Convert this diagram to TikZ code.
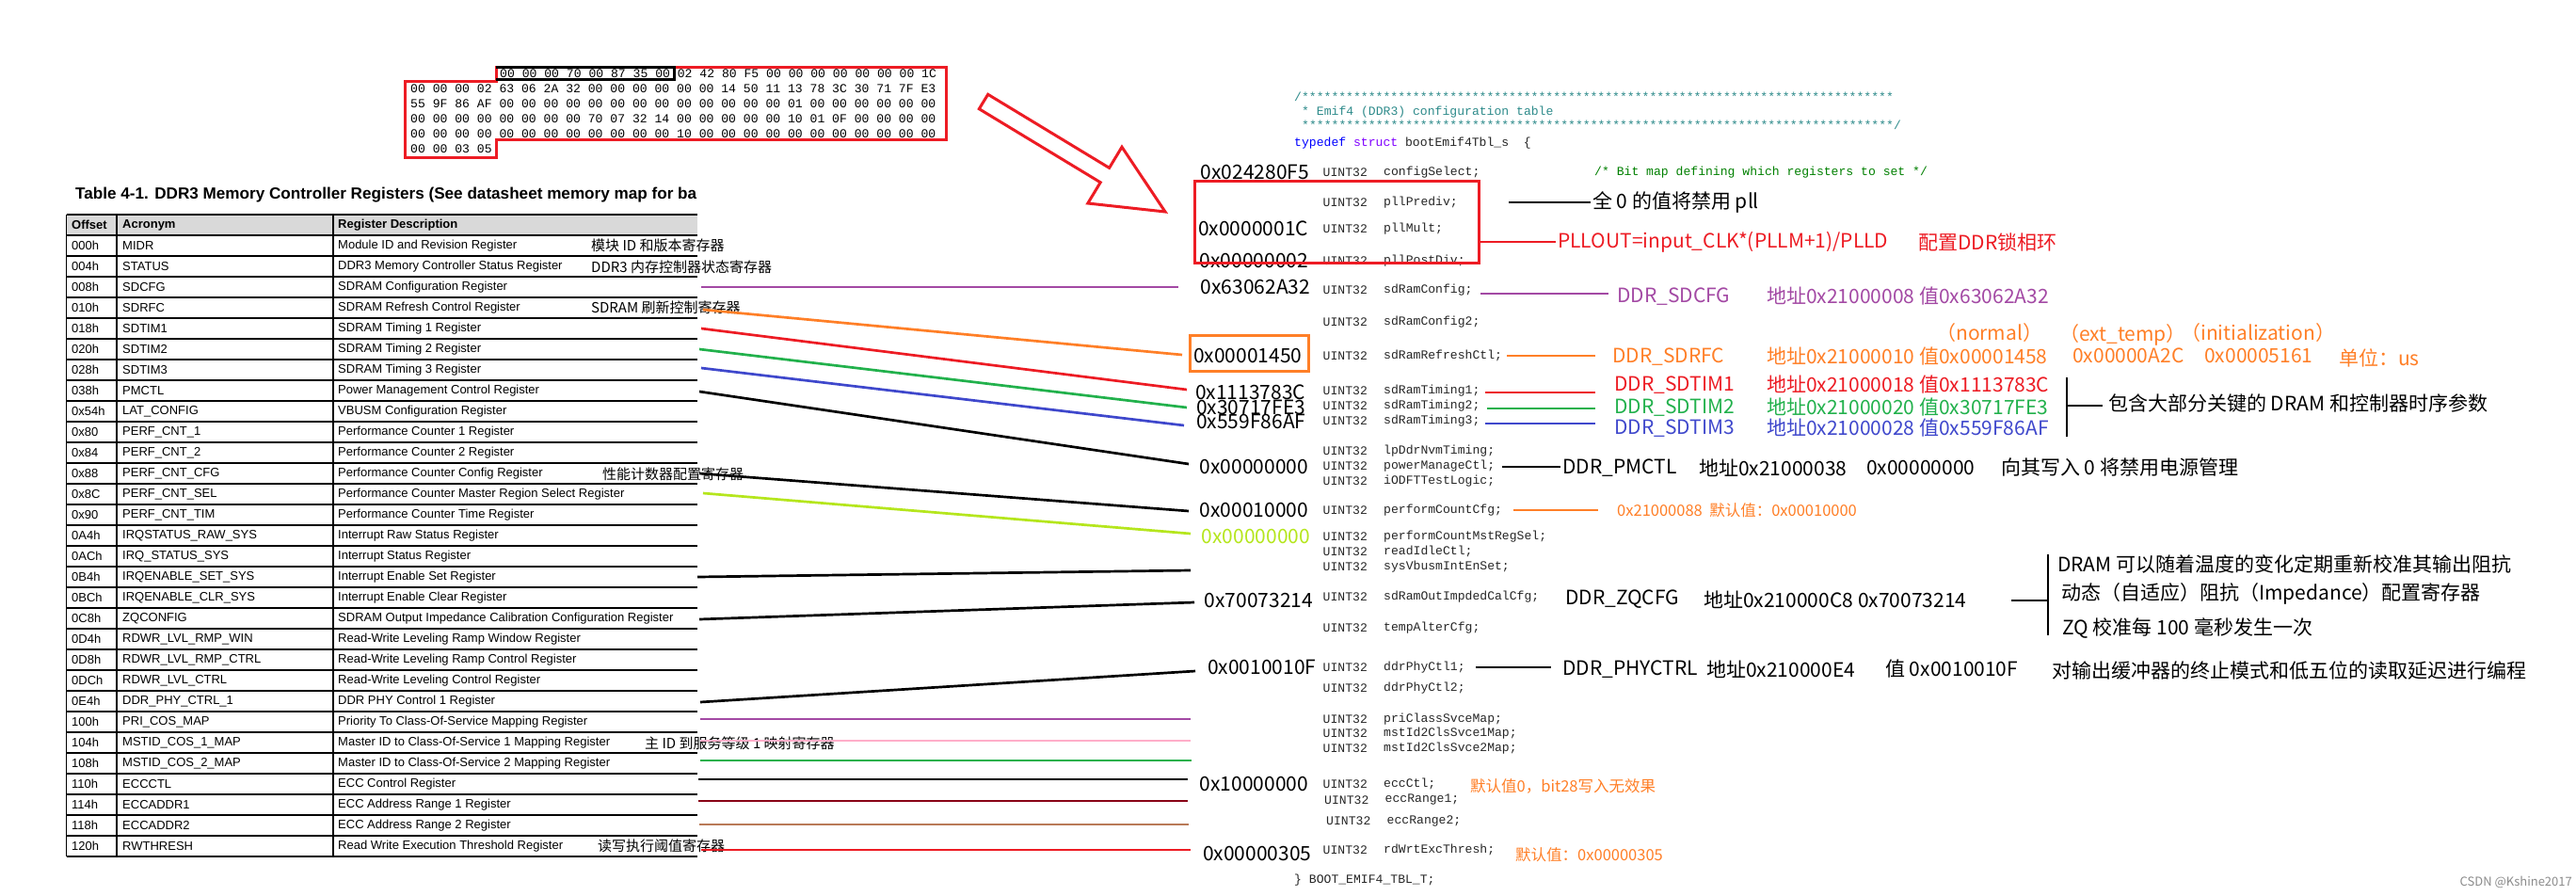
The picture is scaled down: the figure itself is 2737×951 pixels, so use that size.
\documentclass[tikz,border=0pt]{standalone}
\usepackage{fontspec}
\setmainfont{Liberation Sans}
\newfontfamily\cjkf{Noto Sans CJK SC}
\newfontfamily\arialf{Liberation Sans}
\newfontfamily\monof{Liberation Mono}
\definecolor{pRed}{HTML}{ED1C24}
\definecolor{pOrange}{HTML}{FF7F27}
\definecolor{pPurple}{HTML}{A349A4}
\definecolor{pGreen}{HTML}{22B14C}
\definecolor{pBlue}{HTML}{3F48CC}
\definecolor{pLime}{HTML}{B5E61D}
\definecolor{pPink}{HTML}{FFAEC9}
\definecolor{pDarkRed}{HTML}{880015}
\definecolor{pBrown}{HTML}{B97A57}
\definecolor{cTeal}{HTML}{2E8B8B}
\definecolor{cGreen}{HTML}{008000}
\definecolor{cBlue}{HTML}{0000FF}
\definecolor{cPurple}{HTML}{8000FF}
\definecolor{headGray}{HTML}{D9D9D9}
\begin{document}
\begin{tikzpicture}[x=1pt,y=-1pt,
  hex/.style={anchor=west,inner sep=0pt,font=\monof\fontsize{13.1}{15}\selectfont},
  tabtxt/.style={anchor=west,inner sep=0pt,font=\arialf\fontsize{13}{15}\selectfont},
  tabhead/.style={anchor=west,inner sep=0pt,font=\arialf\bfseries\fontsize{13}{15}\selectfont},
  note/.style={anchor=west,inner sep=0pt,font=\cjkf\fontsize{15}{17}\selectfont},
  val/.style={anchor=west,inner sep=0pt,font=\cjkf\fontsize{21}{24}\selectfont},
  code/.style={anchor=west,inner sep=0pt,text=black!85,font=\monof\fontsize{13.1}{15}\selectfont},
  lbl/.style={anchor=west,inner sep=0pt,font=\cjkf\fontsize{21}{24}\selectfont},
  small/.style={anchor=west,inner sep=0pt,font=\cjkf\fontsize{16.5}{19}\selectfont},
  conn/.style={line width=2.7pt},
  tline/.style={line width=1.2pt}]
\useasboundingbox (0,0) rectangle (2737,951);
\fill[white] (0,0) rectangle (2737,951);

% ---------- hex dump ----------
\draw[pRed,line width=3pt] (527,71) -- (1005,71) -- (1005,148) -- (527,148) -- (527,167) -- (430,167) -- (430,86) -- (527,86) -- cycle;
\draw[black,line width=3pt] (527,71) -- (716,71) -- (716,84) -- (527,84);
\node[hex] (h1) at (531,78) {00 00 00 70 00 87 35 00 02 42 80 F5 00 00 00 00 00 00 00 1C};
\node[hex] (h2) at (436,94) {00 00 00 02 63 06 2A 32 00 00 00 00 00 00 14 50 11 13 78 3C 30 71 7F E3};
\node[hex] (h3) at (436,110) {55 9F 86 AF 00 00 00 00 00 00 00 00 00 00 00 00 00 01 00 00 00 00 00 00};
\node[hex] (h4) at (436,126) {00 00 00 00 00 00 00 00 70 07 32 14 00 00 00 00 00 10 01 0F 00 00 00 00};
\node[hex] (h5) at (436,142) {00 00 00 00 00 00 00 00 00 00 00 00 10 00 00 00 00 00 00 00 00 00 00 00};
\node[hex] (h6) at (436,158) {00 00 03 05};

% ---------- big red arrow ----------
\draw[pRed,line width=3pt,line join=miter] (1040.3,115.7) -- (1169.2,193.8) -- (1155.8,216.0) -- (1238,225) -- (1192.0,156.2) -- (1178.6,178.4) -- (1049.7,100.3) -- cycle;

% ---------- table ----------
\node[anchor=west,inner sep=0pt] (ttl) at (80,207) {\resizebox{660pt}{!}{\arialf\bfseries Table 4-1. DDR3 Memory Controller Registers (See datasheet memory map for ba}};
\fill[headGray] (70.5,228) rectangle (741,250);
\foreach \i in {0,...,31} \draw[tline] (70.5,{228+22*\i}) -- (741,{228+22*\i});
\draw[tline] (70.5,228) -- (70.5,910);
\draw[tline] (124,228) -- (124,910);
\draw[tline] (354,228) -- (354,910);
\node[tabhead] (hoff) at (76,239) {Offset};
\node[tabhead] (hacr) at (130,239) {Acronym};
\node[tabhead] (hdes) at (359,239) {Register Description};
\foreach \o/\a/\d [count=\i] in {000h/MIDR/Module ID and Revision Register,
004h/STATUS/DDR3 Memory Controller Status Register,
008h/SDCFG/SDRAM Configuration Register,
010h/SDRFC/SDRAM Refresh Control Register,
018h/SDTIM1/SDRAM Timing 1 Register,
020h/SDTIM2/SDRAM Timing 2 Register,
028h/SDTIM3/SDRAM Timing 3 Register,
038h/PMCTL/Power Management Control Register,
0x54h/LAT\_CONFIG/VBUSM Configuration Register,
0x80/PERF\_CNT\_1/Performance Counter 1 Register,
0x84/PERF\_CNT\_2/Performance Counter 2 Register,
0x88/PERF\_CNT\_CFG/Performance Counter Config Register,
0x8C/PERF\_CNT\_SEL/Performance Counter Master Region Select Register,
0x90/PERF\_CNT\_TIM/Performance Counter Time Register,
0A4h/IRQSTATUS\_RAW\_SYS/Interrupt Raw Status Register,
0ACh/IRQ\_STATUS\_SYS/Interrupt Status Register,
0B4h/IRQENABLE\_SET\_SYS/Interrupt Enable Set Register,
0BCh/IRQENABLE\_CLR\_SYS/Interrupt Enable Clear Register,
0C8h/ZQCONFIG/SDRAM Output Impedance Calibration Configuration Register,
0D4h/RDWR\_LVL\_RMP\_WIN/Read-Write Leveling Ramp Window Register,
0D8h/RDWR\_LVL\_RMP\_CTRL/Read-Write Leveling Ramp Control Register,
0DCh/RDWR\_LVL\_CTRL/Read-Write Leveling Control Register,
0E4h/DDR\_PHY\_CTRL\_1/DDR PHY Control 1 Register,
100h/PRI\_COS\_MAP/Priority To Class-Of-Service Mapping Register,
104h/MSTID\_COS\_1\_MAP/Master ID to Class-Of-Service 1 Mapping Register,
108h/MSTID\_COS\_2\_MAP/Master ID to Class-Of-Service 2 Mapping Register,
110h/ECCCTL/ECC Control Register,
114h/ECCADDR1/ECC Address Range 1 Register,
118h/ECCADDR2/ECC Address Range 2 Register,
120h/RWTHRESH/Read Write Execution Threshold Register}
{
  \node[tabtxt] (off\i) at (76,{239+22*\i}) {\o};
  \node[tabtxt] (acr\i) at (130,{239+22*\i}) {\a};
  \node[tabtxt] (des\i) at (359,{239+22*\i}) {\d};
}
% chinese notes in table
\node[note] (n1) at (628,261) {模块 ID 和版本寄存器};
\node[note] (n2) at (628,284) {DDR3 内存控制器状态寄存器};
\node[note] (n3) at (628,327) {SDRAM 刷新控制寄存器};
\node[note] (n4) at (640,504) {性能计数器配置寄存器};
\node[note] (n5) at (685,790) {主 ID 到服务等级 1 映射寄存器};
\node[note] (n6) at (635,899) {读写执行阈值寄存器};

% ---------- code ----------
\node[code,text=cTeal] (cm1) at (1375,103) {/********************************************************************************};
\node[code,text=cTeal] (cm2) at (1383,119) {* Emif4 (DDR3) configuration table};
\node[code,text=cTeal] (cm3) at (1383,133) {********************************************************************************/};
\node[code] (tdef) at (1375,152) {\textcolor{cBlue}{typedef} \textcolor{cPurple}{struct} bootEmif4Tbl\_s\ \ \{};
\foreach \x/\y/\m [count=\k] in {1405.5/183/configSelect,1405.5/215/pllPrediv,1405.5/243/pllMult,1405.5/277/pllPostDiv,
1405.5/308/sdRamConfig,1405.5/342/sdRamConfig2,1405.5/378/sdRamRefreshCtl,1405.5/415/sdRamTiming1,1405.5/431/sdRamTiming2,
1405.5/447/sdRamTiming3,1405.5/479/lpDdrNvmTiming,1405.5/495/powerManageCtl,1405.5/511/iODFTTestLogic,1405.5/542/performCountCfg,
1405.5/570/performCountMstRegSel,1405.5/586/readIdleCtl,1405.5/602/sysVbusmIntEnSet,1405.5/634/sdRamOutImpdedCalCfg,
1405.5/667/tempAlterCfg,1405.5/709/ddrPhyCtl1,1405.5/731/ddrPhyCtl2,1405.5/764/priClassSvceMap,1405.5/779/mstId2ClsSvce1Map,
1405.5/795/mstId2ClsSvce2Map,1405.5/833/eccCtl,1407/850/eccRange1,1409/872/eccRange2,1405.5/903/rdWrtExcThresh}
{
  \node[code] (ut\k) at (\x,\y) {UINT32};
  \node[code] (mb\k) at ({\x+64.5},\y) {\m;};
}
\node[code,text=cGreen] (cmt) at (1694,183) {/* Bit map defining which registers to set */};
\node[code] (tend) at (1375,935) {\} BOOT\_EMIF4\_TBL\_T;};

% ---------- values ----------
\node[val] (v1) at (1275.5,183) {0x024280F5};
\node[val] (v2) at (1273,243) {0x0000001C};
\node[val] (v3) at (1274.5,277) {0x00000002};
\node[val] (v4) at (1275.5,305) {0x63062A32};
\node[val] (v5) at (1268,378) {0x00001450};
\node[val] (v6) at (1270,417) {0x1113783C};
\node[val] (v7) at (1271,433) {0x30717FE3};
\node[val] (v8) at (1271,448) {0x559F86AF};
\node[val] (v9) at (1274.5,496) {0x00000000};
\node[val] (v10) at (1274.5,542) {0x00010000};
\node[val,text=pLime] (v11) at (1276.5,570) {0x00000000};
\node[val] (v12) at (1279.6,638) {0x70073214};
\node[val] (v13) at (1283,709) {0x0010010F};
\node[val] (v14) at (1274.5,833) {0x10000000};
\node[val] (v15) at (1278,907) {0x00000305};
\draw[pRed,line width=3pt] (1269,192) rectangle (1571,279);
\draw[pOrange,line width=3pt] (1264,356) rectangle (1390,394);

% ---------- connectors table -> values ----------
\foreach \n/\xa/\ya/\xb/\yb/\c in {1/745/305/1252/305/pPurple, 2/747/329/1256/377/pOrange, 3/745/349/1261/414/pRed,
4/743/371/1261/433/pGreen, 5/745/391/1258/452/pBlue, 6/743/416/1263/493/black, 7/743/503/1263/543/black,
8/747/524/1265/567/pLime, 9/741/613/1265/606/black, 10/743/658/1269/640/black, 11/744/746/1270/713/black,
12/744/764/1265/764/pPurple, 13/744/787/1265/787/pPink, 14/744/808/1266/808/pGreen, 15/742/828/1262/828/black,
16/742/851/1262/851/pDarkRed, 17/743/876/1263/876/pBrown, 18/745/903/1265/903/pRed}
{
  \coordinate (L\n) at (\xa,\ya);
  \coordinate (R\n) at (\xb,\yb);
  \draw[conn,draw=\c] (L\n) -- (R\n);
}

% ---------- right-side labels ----------
\node[lbl] (pllnote) at (1692,215) {全 0 的值将禁用 pll};
\node[lbl,text=pRed] (pllf) at (1655,257) {PLLOUT=input\_CLK*(PLLM+1)/PLLD};
\node[lbl,text=pRed] (pllcn) at (2038,257) {配置DDR锁相环};
\node[lbl,text=pPurple] (sdcfg) at (1718,315) {DDR\_SDCFG};
\node[lbl,text=pPurple] (sdcfga) at (1877,315) {地址0x21000008 值0x63062A32};
\node[lbl,text=pOrange] (nrm) at (2057,354) {（normal）};
\node[lbl,text=pOrange] (extt) at (2188,356) {（ext\_temp）};
\node[lbl,text=pOrange] (initt) at (2317,354) {（initialization）};
\node[lbl,text=pOrange] (sdrfc) at (1713,379) {DDR\_SDRFC};
\node[lbl,text=pOrange] (sdrfca) at (1877,379) {地址0x21000010 值0x00001458};
\node[lbl,text=pOrange] (extv) at (2202,378) {0x00000A2C};
\node[lbl,text=pOrange] (initv) at (2342,378) {0x00005161};
\node[lbl,text=pOrange] (unit) at (2485,380) {单位：us};
\node[lbl,text=pRed] (t1) at (1715,409) {DDR\_SDTIM1};
\node[lbl,text=pRed] (t1a) at (1877,409) {地址0x21000018 值0x1113783C};
\node[lbl,text=pGreen] (t2) at (1715,433) {DDR\_SDTIM2};
\node[lbl,text=pGreen] (t2a) at (1877,433) {地址0x21000020 值0x30717FE3};
\node[lbl,text=pBlue] (t3) at (1715,455) {DDR\_SDTIM3};
\node[lbl,text=pBlue] (t3a) at (1877,455) {地址0x21000028 值0x559F86AF};
\node[lbl] (tnote) at (2240,429) {包含大部分关键的 DRAM 和控制器时序参数};
\node[lbl] (pm) at (1660,497) {DDR\_PMCTL};
\node[lbl] (pma) at (1805,497) {地址0x21000038};
\node[lbl] (pmv) at (1983,497) {0x00000000};
\node[lbl] (pmn) at (2126,497) {向其写入 0 将禁用电源管理};
\node[small,text=pOrange] (pc) at (1718,542) {0x21000088\ \ 默认值：0x00010000};
\node[lbl] (zq) at (1663,637) {DDR\_ZQCFG};
\node[lbl] (zqa) at (1810,637) {地址0x210000C8 0x70073214};
\node[lbl] (zq1) at (2186,599) {DRAM 可以随着温度的变化定期重新校准其输出阻抗};
\node[lbl] (zq2) at (2190,631) {动态（自适应）阻抗（Impedance）配置寄存器};
\node[lbl] (zq3) at (2191,668) {ZQ 校准每 100 毫秒发生一次};
\node[lbl] (phy) at (1660,711) {DDR\_PHYCTRL};
\node[lbl] (phya) at (1813,711) {地址0x210000E4};
\node[lbl] (phyv) at (2003,711) {值 0x0010010F};
\node[lbl] (phyn) at (2180,713) {对输出缓冲器的终止模式和低五位的读取延迟进行编程};
\node[small,text=pOrange] (ecc) at (1562,835) {默认值0，bit28写入无效果};
\node[small,text=pOrange] (rw) at (1610,908) {默认值：0x00000305};
\node[anchor=east,inner sep=0pt,text=black!45,font=\cjkf\fontsize{13}{15}\selectfont] (wm) at (2733,937) {CSDN @Kshine2017};

% ---------- connectors code -> labels ----------
\coordinate (a1) at (1603,215); \coordinate (b1) at (1690,215);
\draw[conn] (a1) -- (b1);
\coordinate (a2) at (1571,257); \coordinate (b2) at (1653,257);
\draw[conn,draw=pRed] (a2) -- (b2);
\coordinate (a3) at (1573,312); \coordinate (b3) at (1709,312);
\draw[conn,draw=pPurple] (a3) -- (b3);
\coordinate (a4) at (1601,378); \coordinate (b4) at (1695,378);
\draw[conn,draw=pOrange] (a4) -- (b4);
\coordinate (a5) at (1578,417); \coordinate (b5) at (1695,417);
\draw[conn,draw=pRed] (a5) -- (b5);
\coordinate (a6) at (1580,434); \coordinate (b6) at (1695,434);
\draw[conn,draw=pGreen] (a6) -- (b6);
\coordinate (a7) at (1578,450); \coordinate (b7) at (1695,450);
\draw[conn,draw=pBlue] (a7) -- (b7);
\coordinate (a8) at (1596,496); \coordinate (b8) at (1658,496);
\draw[conn] (a8) -- (b8);
\coordinate (a9) at (1608,542); \coordinate (b9) at (1698,542);
\draw[conn,draw=pOrange] (a9) -- (b9);
\coordinate (a10) at (1568,709); \coordinate (b10) at (1648,709);
\draw[conn] (a10) -- (b10);
% brackets
\coordinate (tbTop) at (2196,401); \coordinate (tbBot) at (2196,464);
\coordinate (tbMid) at (2196,431); \coordinate (tbEnd) at (2234,431);
\draw[conn] (tbTop) -- (tbBot);
\draw[conn] (tbMid) -- (tbEnd);
\coordinate (zqTop) at (2176,589); \coordinate (zqBot) at (2176,675);
\coordinate (zqMid) at (2176,638); \coordinate (zqStart) at (2137,638);
\draw[conn] (zqTop) -- (zqBot);
\draw[conn] (zqStart) -- (zqMid);
\end{tikzpicture}
\end{document}
